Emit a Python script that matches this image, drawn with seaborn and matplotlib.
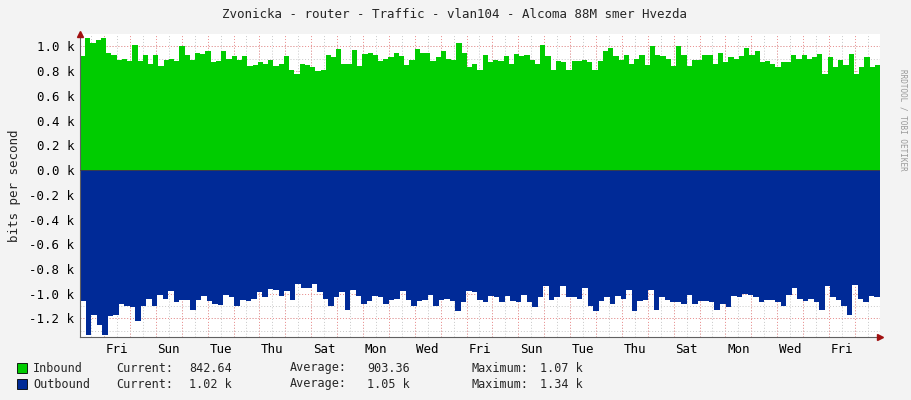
import numpy as np
import matplotlib
matplotlib.use("Agg")
import matplotlib.pyplot as plt
import seaborn as sns

# traffic in k bits per second
inbound = [0.92,1.07,1.03,1.05,1.07,0.95,0.93,0.89,0.90,0.88,1.01,0.88,0.93,0.86,0.93,0.84,0.89,0.90,0.88,1.00,
           0.93,0.89,0.95,0.94,0.96,0.87,0.88,0.96,0.90,0.92,0.89,0.92,0.84,0.85,0.87,0.86,0.89,0.84,0.86,0.92,
           0.81,0.78,0.86,0.85,0.83,0.80,0.81,0.93,0.91,0.98,0.86,0.86,0.97,0.84,0.94,0.95,0.93,0.88,0.90,0.91,
           0.95,0.92,0.85,0.89,0.98,0.95,0.95,0.88,0.91,0.96,0.90,0.89,1.03,0.95,0.83,
           0.86,0.81,0.93,0.87,0.89,0.88,0.92,0.86,0.94,0.92,0.93,0.89,0.86,1.01,0.92,0.81,0.88,0.87,0.81,0.88,
           0.88,0.89,0.87,0.81,0.88,0.96,0.99,0.92,0.89,0.93,0.86,0.90,0.93,0.85,1.00,0.93,0.92,0.90,0.84,1.00,
           0.93,0.84,0.89,0.89,0.93,0.93,0.86,0.95,0.87,0.91,0.90,0.92,0.99,0.93,0.96,0.87,0.88,0.86,0.83,0.87,
           0.87,0.93,0.90,0.93,0.90,0.91,0.94,0.78,0.91,0.83,0.89,0.85,0.94,0.78,0.83,0.91,0.83,0.85]
outbound = [1.06,1.33,1.17,1.25,1.33,1.18,1.17,1.08,1.10,1.11,1.22,1.10,1.04,1.10,1.01,1.04,0.98,1.07,1.05,1.05,
            1.13,1.05,1.02,1.06,1.08,1.09,1.01,1.03,1.10,1.05,1.06,1.04,0.99,1.03,0.96,0.97,1.02,0.98,1.05,0.92,
            0.95,0.95,0.92,0.99,1.04,1.10,1.03,0.99,1.13,0.97,1.02,1.08,1.06,1.02,1.03,1.08,1.05,1.04,0.98,1.05,
            1.10,1.06,1.05,1.01,1.10,1.05,1.04,1.06,1.14,1.07,0.98,
            0.99,1.05,1.07,1.02,1.03,1.07,1.02,1.06,1.07,1.01,1.07,1.11,1.03,0.94,1.05,1.03,0.94,1.03,1.03,1.04,
            0.95,1.10,1.14,1.06,1.03,1.08,1.02,1.04,0.97,1.14,1.06,1.05,0.97,1.13,1.03,1.05,1.07,1.07,1.08,1.01,
            1.08,1.06,1.06,1.07,1.13,1.08,1.11,1.02,1.03,1.00,1.01,1.03,1.07,1.05,1.05,1.07,1.10,1.01,0.95,1.04,
            1.06,1.04,1.07,1.13,0.94,1.03,1.05,1.10,1.17,0.93,1.04,1.07,1.02,1.03]
day_labels = ["Fri", "Sun", "Tue", "Thu", "Sat", "Mon", "Wed", "Fri",
              "Sun", "Tue", "Thu", "Sat", "Mon", "Wed", "Fri"]
y_ticks = [1.0, 0.8, 0.6, 0.4, 0.2, 0.0, -0.2, -0.4, -0.6, -0.8, -1.0, -1.2]
legend_rows = [
    ("Inbound", "842.64", "903.36", "1.07 k", "#00CC00"),
    ("Outbound", "1.02 k", "1.05 k", "1.34 k", "#002A97"),
]

span = 30.9        # days shown
day_off = 0.93     # first midnight

sns.set_style("white")
plt.rcParams["font.family"] = ["DejaVu Sans Mono"]

fig = plt.figure(figsize=(9.11, 4.0), dpi=100, facecolor="#F3F3F3")
ax = fig.add_axes([80/911, 63/400, 800/911, 303/400])
ax.set_facecolor("white")

def stepped(vals):
    v = np.array(vals)
    x = np.linspace(0, span, len(v) + 1)
    return x, np.append(v, v[-1])

xi, yi = stepped(inbound)
xo, yo = stepped(outbound)
ax.fill_between(xi, 0, yi, step="post", color="#00CC00", lw=0, zorder=2)
ax.fill_between(xo, 0, -yo, step="post", color="#002A97", lw=0, zorder=2)

ax.set_xlim(0, span)
ax.set_ylim(-1.35, 1.1)

# grid behind the areas: minor grey, major red
for k in np.arange(day_off - 0.5, span, 0.5):
    if k > 0:
        ax.axvline(k, color="#C8C8C8", ls=(0, (1, 2)), lw=0.7, zorder=1)
for k in np.arange(day_off, span, 1.0):
    ax.axvline(k, color="#F09090", ls=(0, (1, 2)), lw=0.7, zorder=1)
for v in np.arange(-1.3, 1.05, 0.1):
    ax.axhline(v, color="#C8C8C8", ls=(0, (1, 2)), lw=0.7, zorder=1)
for v in y_ticks:
    ax.axhline(v, color="#F09090", ls=(0, (1, 2)), lw=0.7, zorder=1)
ax.axhline(0, color="#404040", lw=0.6, zorder=4)

ax.set_xticks([day_off + 0.5 + 2*i for i in range(len(day_labels))])
ax.set_xticklabels(day_labels)
ax.set_xticks(np.arange(day_off, span, 1.0), minor=True)
ax.set_yticks(y_ticks)
ax.set_yticklabels([f"{v:.1f} k" for v in y_ticks])
ax.tick_params(axis="both", labelsize=9, colors="#000000", length=0, pad=4)
ax.tick_params(axis="x", which="minor", length=3, direction="out", color="#606060")
ax.set_ylabel("bits per second", fontsize=9, labelpad=6)

for s in ["top", "right"]:
    ax.spines[s].set_visible(False)
ax.spines["left"].set_color("#606060")
ax.spines["bottom"].set_color("#606060")
ax.plot([0], [1.1], marker="^", color="#A01010", ms=5, clip_on=False, zorder=6)
ax.plot([span], [-1.35], marker=">", color="#A01010", ms=5, clip_on=False, zorder=6)

fig.text(455/911, 1 - 15/400, "Zvonicka - router - Traffic - vlan104 - Alcoma 88M smer Hvezda",
         ha="center", va="center", fontsize=9)
fig.text(903/911, 1 - 120/400, "RRDTOOL / TOBI OETIKER", rotation=270,
         ha="center", va="center", fontsize=5.5, color="#999999")

for i, (name, cur, avg, mx, col) in enumerate(legend_rows):
    yy = 1 - (368 + 16*i)/400
    fig.patches.append(plt.Rectangle((17/911, yy - 4.5/400), 10/911, 10/400,
                                     transform=fig.transFigure, facecolor=col,
                                     edgecolor="black", lw=0.6))
    fig.text(33/911, yy, name, va="center", fontsize=8.5)
    fig.text(116/911, yy, "Current:", va="center", fontsize=8.5)
    fig.text(232/911, yy, cur, va="center", ha="right", fontsize=8.5)
    fig.text(290/911, yy, "Average:", va="center", fontsize=8.5)
    fig.text(410/911, yy, avg, va="center", ha="right", fontsize=8.5)
    fig.text(471/911, yy, "Maximum:", va="center", fontsize=8.5)
    fig.text(583/911, yy, mx, va="center", ha="right", fontsize=8.5)

fig.savefig("out.png", dpi=100, facecolor=fig.get_facecolor())
